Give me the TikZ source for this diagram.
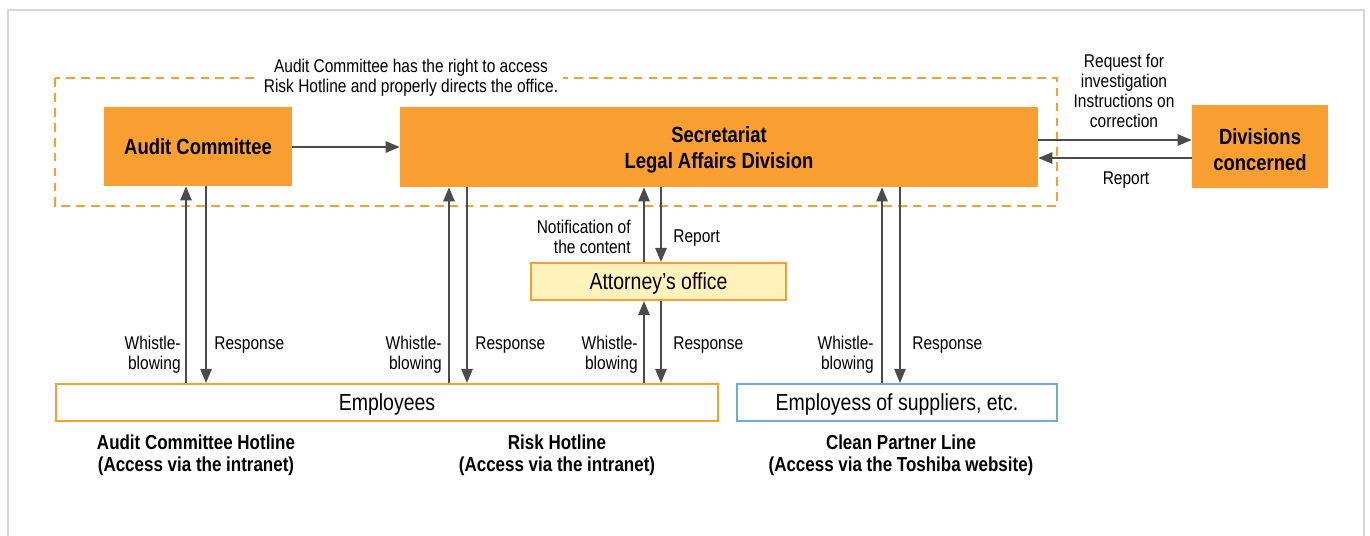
\documentclass[tikz,border=0pt]{standalone}
\usepackage{fontspec}
\setmainfont[FakeStretch=0.84]{Liberation Sans}
\usetikzlibrary{arrows.meta}
\definecolor{tor}{RGB}{249,158,48}
\definecolor{tyel}{RGB}{255,242,186}
\definecolor{tblue}{RGB}{110,172,222}
\definecolor{tarr}{RGB}{75,75,75}
\definecolor{tframe}{RGB}{215,215,215}
\tikzset{
  px/.style={x=0.02cm,y=-0.02cm},
  obox/.style={fill=tor,draw=none,inner sep=0pt,align=center,font=\fontsize{12.5}{15}\selectfont\bfseries},
  wbox/.style={fill=white,draw=tor,line width=1.2pt,inner sep=0pt,text depth=0pt,font=\fontsize{13.2}{15}\selectfont},
  arr/.style={draw=tarr,line width=0.9pt,-{Triangle[width=6.5pt,length=8pt]}},
  lbl/.style={inner sep=0pt,align=center,font=\fontsize{10.5}{11.4}\selectfont},
  blbl/.style={inner sep=0pt,align=center,font=\fontsize{11.5}{12.7}\selectfont\bfseries},
}
\begin{document}
\begin{tikzpicture}[px]
\useasboundingbox (0,0) rectangle (1370,535);
\draw[tframe,line width=1.2pt] (8,540) -- (8,10) -- (1364,10) -- (1364,540);
% dashed group
\draw[tor,line width=1pt,dash pattern=on 5pt off 3.5pt] (55,78) rectangle (1057,206);
\node[lbl,fill=white,inner xsep=3pt,inner ysep=1pt] (note) at (411,78) {Audit Committee has the right to access\\Risk Hotline and properly directs the office.};
% boxes
\node[obox,text depth=0pt,minimum width=188*0.02cm,minimum height=79*0.02cm] (ac) at (198,146.5) {Audit Committee};
\node[obox,minimum width=638*0.02cm,minimum height=80*0.02cm] (sec) at (719,147) {\\[-2.5pt]Secretariat\\Legal Affairs Division};
\node[obox,minimum width=136*0.02cm,minimum height=83*0.02cm] (div) at (1260,146.5) {\\[-2.5pt]Divisions\\concerned};
\node[wbox,fill=tyel,minimum width=255*0.02cm,minimum height=37*0.02cm] (att) at (658.5,281.5) {Attorney's office};
\node[wbox,minimum width=662*0.02cm,minimum height=37*0.02cm] (emp) at (387,402.5) {Employees};
\node[wbox,draw=tblue,minimum width=320*0.02cm,minimum height=37*0.02cm] (sup) at (897,402.5) {Employess of suppliers, etc.};
% horizontal arrows
\coordinate (ym) at (0,147);
\coordinate (yu) at (0,140);
\coordinate (yd) at (0,158);
\draw[arr] (ac.east |- ym) -- (sec.west |- ym);
\draw[arr] (sec.east |- yu) -- (div.west |- yu);
\draw[arr] (div.west |- yd) -- (sec.east |- yd);
\node[lbl] (req) at (1124,91) {Request for\\investigation\\Instructions on\\correction};
\node[lbl] (rep1) at (1126,180) {Report};
% vertical arrows
\coordinate (a1) at (186,0); \coordinate (a2) at (206,0);
\coordinate (r1) at (449,0); \coordinate (r2) at (467,0);
\coordinate (t1) at (644,0); \coordinate (t2) at (661,0);
\coordinate (c1) at (882,0); \coordinate (c2) at (900,0);
\draw[arr] (a1 |- emp.north) -- (a1 |- ac.south);
\draw[arr] (a2 |- ac.south) -- (a2 |- emp.north);
\draw[arr] (r1 |- emp.north) -- (r1 |- sec.south);
\draw[arr] (r2 |- sec.south) -- (r2 |- emp.north);
\draw[arr] (t1 |- emp.north) -- (t1 |- att.south);
\draw[arr] (t2 |- att.south) -- (t2 |- emp.north);
\draw[arr] (t1 |- att.north) -- (t1 |- sec.south);
\draw[arr] (t2 |- sec.south) -- (t2 |- att.north);
\draw[arr] (c1 |- sup.north) -- (c1 |- sec.south);
\draw[arr] (c2 |- sec.south) -- (c2 |- sup.north);
% vertical labels
\node[lbl,align=right,anchor=east] (wa) at (181,355) {Whistle-\\blowing};
\node[lbl,anchor=west] (ra) at (214,345) {Response};
\node[lbl,align=right,anchor=east] (wr) at (442,355) {Whistle-\\blowing};
\node[lbl,anchor=west] (rr) at (475,345) {Response};
\node[lbl,align=right,anchor=east] (wt) at (638,355) {Whistle-\\blowing};
\node[lbl,anchor=west] (rt) at (673,345) {Response};
\node[lbl,align=right,anchor=east] (nt) at (631,237) {Notification of\\the content};
\node[lbl,anchor=west] (rp) at (673,238) {Report};
\node[lbl,align=right,anchor=east] (wc) at (874,355) {Whistle-\\blowing};
\node[lbl,anchor=west] (rc) at (912,345) {Response};
% bottom labels
\node[blbl] (h1) at (196,455) {Audit Committee Hotline\\(Access via the intranet)};
\node[blbl] (h2) at (557,455) {Risk Hotline\\(Access via the intranet)};
\node[blbl] (h3) at (901,455) {Clean Partner Line\\(Access via the Toshiba website)};
\end{tikzpicture}
\end{document}
